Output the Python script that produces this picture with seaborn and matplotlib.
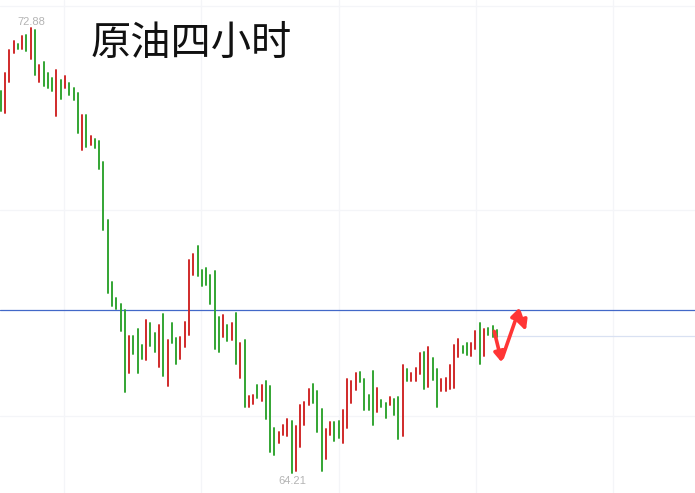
import numpy as np
import pandas as pd
import matplotlib
matplotlib.use("Agg")
import matplotlib.pyplot as plt
import seaborn as sns

# ---- data ----
highs = [71.65, 72.00, 72.45, 72.64, 72.58, 72.72, 72.74, 72.88, 72.85, 72.17,
         72.23, 72.00, 71.91, 72.06, 71.88, 71.94, 71.82, 71.72, 71.61, 71.19,
         71.19, 70.77, 70.73, 70.68, 70.28, 69.15, 67.93, 67.63, 67.50, 67.38,
         66.89, 66.89, 67.01, 66.70, 67.19, 67.13, 66.93, 67.09, 67.30, 66.81,
         67.13, 66.85, 66.87, 67.15, 68.37, 68.47, 68.63, 68.16, 68.20, 68.06,
         68.14, 67.26, 67.28, 67.09, 67.13, 67.32, 66.74, 66.81, 65.72, 65.74,
         65.92, 65.92, 66.00, 65.90, 65.08, 65.00, 65.14, 65.26, 65.22, 65.12,
         65.53, 65.59, 65.84, 65.94, 65.80, 65.45, 65.06, 65.20, 65.20, 65.22,
         65.43, 66.04, 66.00, 66.15, 66.17, 66.04, 65.74, 66.19, 65.86, 65.63,
         65.57, 65.70, 65.65, 65.70, 66.31, 66.23, 66.15, 66.25, 66.54, 66.56,
         66.66, 66.46, 66.23, 66.04, 66.06, 66.31, 66.70, 66.83, 66.68, 66.74,
         66.74, 66.97, 67.13, 67.01, 67.03, 67.07, 66.99]
lows = [71.26, 71.22, 71.83, 72.39, 72.47, 72.47, 72.43, 72.28, 71.96, 71.83,
        71.76, 71.71, 71.65, 71.17, 71.50, 71.72, 71.57, 71.48, 70.83, 70.50,
        70.56, 70.61, 70.55, 70.13, 68.94, 67.72, 67.46, 67.41, 66.98, 65.79,
        66.16, 66.53, 66.16, 66.43, 66.41, 66.68, 66.57, 66.28, 66.10, 65.91,
        66.74, 66.33, 66.43, 66.66, 66.90, 68.07, 68.05, 67.85, 67.87, 67.50,
        66.63, 66.57, 66.86, 66.78, 66.80, 66.33, 66.06, 65.50, 65.50, 65.55,
        65.67, 65.61, 65.26, 64.62, 64.56, 64.79, 64.95, 64.93, 64.21, 64.25,
        64.72, 65.15, 65.53, 65.57, 65.01, 64.25, 64.48, 64.95, 64.83, 64.89,
        64.79, 65.09, 65.57, 65.83, 65.98, 65.44, 65.44, 65.15, 65.40, 65.50,
        65.28, 65.53, 65.34, 64.87, 64.93, 66.00, 66.00, 66.00, 66.13, 65.85,
        65.89, 66.02, 65.50, 65.81, 65.81, 65.85, 65.87, 66.47, 66.55, 66.51,
        66.49, 66.62, 66.33, 66.49, 66.90, 66.86, 66.86]
directions = list("GRRRGRGRGR" "GGGRGRGGGR" "GRGGGGGGGG" "RGGGRGGRGR"
                  "GGRRRRGGGG" "GGRGRGRGRR" "GRGGGRRRGR" "RRRGGGRRGG"
                  "RRRRGGGGRG" "GRGGRGRRRG" "RGGRRRRRGG" "RRGRGGG")

title_text = "原油四小时"
level_line = 67.38          # horizontal blue level
faint_level = 66.89         # faint light-blue level on the right
faint_level_start = 115.7

# hand-drawn red arrows: (x0, y0, x1, y1) in bar-index / price units
arrows = [(115.4, 66.97, 117.2, 66.36),
          (117.3, 66.46, 121.4, 67.44),
          (121.3, 67.34, 122.8, 66.98)]

# ---- build long table ----
n = len(highs)
rows = []
for i in range(n):
    rows.append({"bar": i, "x": i, "price": highs[i], "dir": directions[i]})
    rows.append({"bar": i, "x": i, "price": lows[i], "dir": directions[i]})
df = pd.DataFrame(rows)

sns.set_theme(style="white")
plt.rcParams['font.family'] = ['Noto Sans CJK SC', 'DejaVu Sans']

fig = plt.figure(figsize=(6.95, 4.93), dpi=100)
ax = fig.add_axes([0, 0, 1, 1])
ax.set_facecolor("white")

# faint grid
for gx in [14.8, 46.9, 79.0, 111.1, 143.2]:
    ax.axvline(gx, color="#f4f5f8", lw=0.9, zorder=0)
for gy in [73.32, 69.33, 65.33]:
    ax.axhline(gy, color="#f4f5f8", lw=0.9, zorder=0)

sns.lineplot(data=df, x="x", y="price", units="bar", estimator=None,
             hue="dir", palette={"R": "#d02a2a", "G": "#33a533"},
             linewidth=1.4, legend=False, sort=False, ax=ax, zorder=3)

ax.axhline(level_line, color="#4268c8", lw=0.9, zorder=2)
ax.plot([faint_level_start, 200], [faint_level, faint_level],
        color="#d9e1f2", lw=0.9, zorder=1)

for x0, y0, x1, y1 in arrows:
    ax.annotate("", xy=(x1, y1), xytext=(x0, y0),
                arrowprops=dict(arrowstyle="-|>", color="#ff3535", lw=2.6,
                                mutation_scale=15, shrinkA=0, shrinkB=0),
                zorder=5)

imax = int(np.argmax(highs))
imin = int(np.argmin(lows))
ax.text(imax + 0.2, highs[imax] + 0.03, f"{highs[imax]:.2f}", ha="center", va="bottom",
        fontsize=8, color="#b4b4b4", family=["Liberation Sans", "DejaVu Sans"])
ax.text(imin + 0.2, lows[imin] - 0.06, f"{lows[imin]:.2f}", ha="center", va="top",
        fontsize=8, color="#b4b4b4", family=["Liberation Sans", "DejaVu Sans"])

ax.text(0.275, 0.912, title_text, transform=ax.transAxes, ha="center", va="center",
        fontsize=29, color="#111111", family=["Noto Sans CJK SC", "DejaVu Sans"])

ax.set_xlim(-0.19, 162.35)
ax.set_ylim(63.82, 73.43)
ax.set_xlabel("")
ax.set_ylabel("")
ax.set_xticks([])
ax.set_yticks([])
for s in ax.spines.values():
    s.set_visible(False)

fig.savefig("out.png", dpi=100, facecolor="white")
